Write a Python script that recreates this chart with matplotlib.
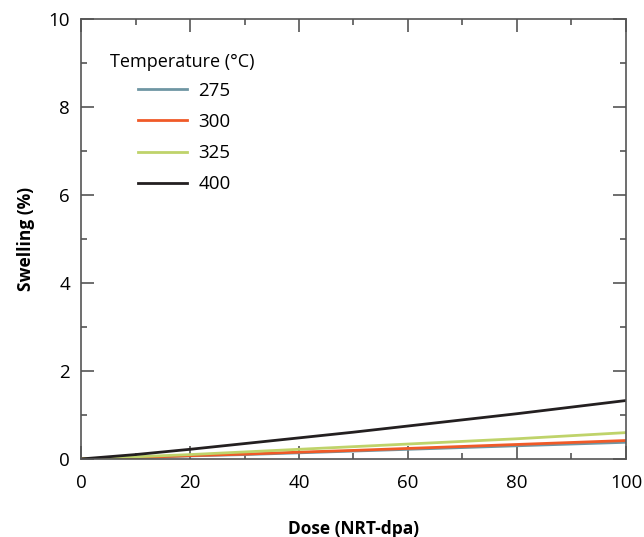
import numpy as np
import matplotlib.pyplot as plt
from matplotlib.ticker import MultipleLocator

plt.rcParams['font.family'] = ['Open Sans', 'DejaVu Sans']

dose = [0, 10, 20, 30, 40, 50, 60, 70, 80, 90, 100]
temps = ['275', '300', '325', '400']
sw_275 = [0, 0.03, 0.07, 0.10, 0.14, 0.18, 0.22, 0.26, 0.30, 0.34, 0.38]
sw_300 = [0, 0.035, 0.075, 0.11, 0.155, 0.195, 0.24, 0.285, 0.33, 0.375, 0.42]
sw_325 = [0, 0.05, 0.10, 0.16, 0.22, 0.28, 0.34, 0.40, 0.46, 0.53, 0.60]
sw_400 = [0, 0.10, 0.22, 0.35, 0.48, 0.61, 0.75, 0.89, 1.03, 1.18, 1.33]
colors = ['#6f96a3', '#f05a28', '#bfd36a', '#231f20']

fig = plt.figure(figsize=(6.44, 5.37), dpi=100)
ax = fig.add_axes([0.1258, 0.1453, 0.8462, 0.8184])

for t, s, c in zip(temps, [sw_275, sw_300, sw_325, sw_400], colors):
    ax.plot(dose, s, color=c, lw=2, label=t)

ax.set_xlim(0, 100)
ax.set_ylim(0, 10)
ax.xaxis.set_major_locator(MultipleLocator(20))
ax.xaxis.set_minor_locator(MultipleLocator(10))
ax.yaxis.set_major_locator(MultipleLocator(2))
ax.yaxis.set_minor_locator(MultipleLocator(1))
ax.tick_params(which='both', direction='in', top=True, right=True,
               labelsize=13.5, color='#555555', width=1.2)
ax.tick_params(axis='x', pad=11)
ax.tick_params(axis='y', pad=8)
ax.tick_params(which='major', length=9.5)
ax.tick_params(which='minor', length=4.5)
for sp in ax.spines.values():
    sp.set_color('#555555')
    sp.set_linewidth(1.2)

ax.set_xlabel('Dose (NRT-dpa)', fontsize=12.5, fontweight='bold', labelpad=20)
ax.set_ylabel('Swelling (%)', fontsize=12.5, fontweight='bold', labelpad=10)

ax.text(0.053, 0.903, 'Temperature (°C)', transform=ax.transAxes,
        fontsize=13, va='center', ha='left')
ax.legend(loc='upper left', bbox_to_anchor=(0.105, 0.858), frameon=False,
          fontsize=13.5, handlelength=2.6, handletextpad=0.6, labelspacing=0.7,
          borderaxespad=0, borderpad=0)

fig.savefig('out.png', dpi=100)
